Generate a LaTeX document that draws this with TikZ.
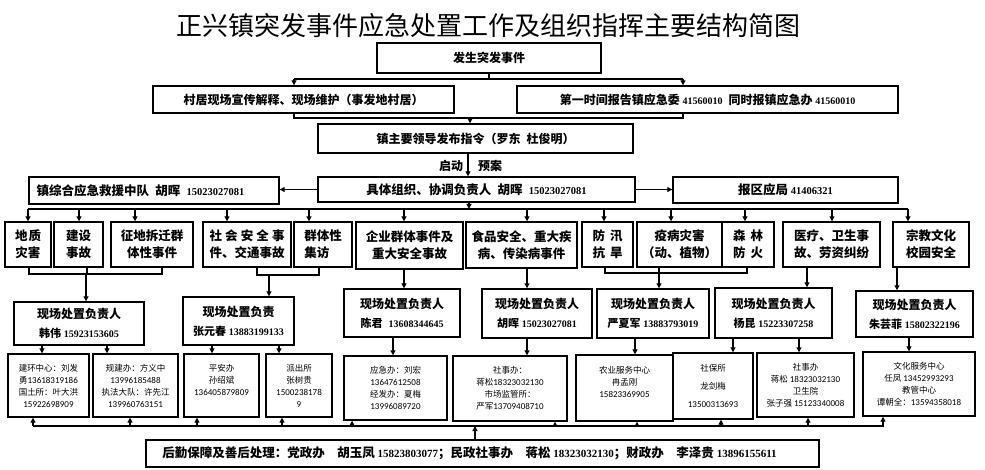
\documentclass[tikz,border=0pt]{standalone}
\usepackage{fontspec}
\setmainfont{Noto Sans CJK SC}
\newfontfamily\numfont{Liberation Serif}
\newfontfamily\smnumfont{Carlito}
\usetikzlibrary{arrows.meta}
\newcommand\nm[2][10.5]{{\numfont\bfseries\fontsize{#1}{#1}\selectfont #2}}
\newcommand\sn[1]{{\smnumfont\fontsize{9}{9}\selectfont #1}}
\newcommand\Bx[7][]{\node[box,minimum width={(#5-#3)*1pt},minimum height={(#6-#4)*1pt},#1] (#2) at ({(#3+#5)/2},{(#4+#6)/2}) {#7};}
\newcommand\spr[2]{\makebox[#1][s]{#2}}
\tikzset{
  box/.style={draw, line width=1.4pt, inner sep=0pt, align=center,
    font=\bfseries\fontsize{12.5}{17}\selectfont},
  rowone/.style={font=\bfseries\fontsize{12}{14}\selectfont},
  rowfour/.style={font=\bfseries\fontsize{12}{19}\selectfont},
  small/.style={font=\fontsize{8.5}{12}\selectfont},
  ln/.style={line width=1.2pt},
  arr/.style={line width=1.2pt, -{Triangle[length=5pt,width=5pt]}},
  lbl/.style={inner sep=0pt, font=\bfseries\fontsize{12}{14}\selectfont},
}
\begin{document}
\begin{tikzpicture}[x=1pt,y=-1pt]
\fill[white] (0,0) rectangle (985,470);
\useasboundingbox (0,0) rectangle (985,470);

\node[inner sep=0pt, font=\fontsize{26}{26}\selectfont] (title) at (488,26) {正兴镇突发事件应急处置工作及组织指挥主要结构简图};

% top part
\Bx[rowone]{e1}{377}{43}{601}{73}{发生突发事件}
\Bx[rowone]{r1a}{153}{86}{454}{113}{村居现场宣传解释、现场维护（事发地村居）}
\Bx[rowone]{r1b}{517}{86}{898}{113}{第一时间报告镇应急委 \nm[10]{41560010}\enspace 同时报镇应急办 \nm[10]{41560010}}
\Bx[rowone]{lead}{318}{124}{633}{153}{镇主要领导发布指令（罗东\enspace 杜俊明）}
\node[lbl] (qd) at (451,166) {启动};
\node[lbl] (ya) at (490,166) {预案};

% second row
\Bx{team}{29}{177}{279}{204}{镇综合应急救援中队\enspace 胡晖\enspace \nm{15023027081}\hspace*{27pt}}
\Bx{main}{318}{177}{635}{202}{具体组织、协调负责人\enspace 胡晖\enspace \nm{15023027081}}
\Bx{bao}{673}{177}{898}{203}{报区应局 \nm{41406321}}

% third row
\Bx{c1}{5}{222}{51}{267}{地\kern1pt 质\\灾害}
\Bx{c2}{54}{222}{103}{267}{建设\\事故}
\Bx{c3}{111}{222}{193}{267}{征地拆迁群\\体性事件}
\Bx{c4}{203}{222}{291}{267}{\spr{75pt}{社\hfil 会\hfil 安\hfil 全\hfil 事}\\件、交通事故}
\Bx[align=left]{c5}{294}{222}{352}{267}{群体性\\集访}
\Bx{c6}{356}{222}{463}{269}{企业群体事件及\\重大安全事故}
\Bx{c7}{466}{222}{577}{268}{食品安全、重大疾\\病、传染病事件}
\Bx{c8}{582}{222}{633}{267}{防\kern5pt 汛\\抗\kern5pt 旱}
\Bx{c9}{637}{222}{722}{267}{疫病灾害\\（动、植物）}
\Bx{c10}{722}{222}{774}{267}{森\kern5pt 林\\防\kern5pt 火}
\Bx{c11}{783}{222}{880}{267}{医疗、卫生事\\故、劳资纠纷}
\Bx{c12}{893}{222}{969}{267}{宗教文化\\校园安全}

% fourth row
\Bx[rowfour]{d1}{14}{302}{144}{345}{现场处置负责人\\{\fontsize{11}{19}\selectfont 韩伟} \nm[10]{15923153605}}
\Bx[rowfour]{d2}{183}{297}{294}{345}{现场处置负责\\{\fontsize{11}{19}\selectfont 张元春} \nm[10]{13883199133}}
\Bx[rowfour]{d3}{344}{289}{460}{337}{现场处置负责人\\{\fontsize{11}{19}\selectfont 陈君}\enspace\nm[10]{13608344645}}
\Bx[rowfour]{d4}{482}{289}{592}{338}{现场处置负责人\\{\fontsize{11}{19}\selectfont 胡晖} \nm[10]{15023027081}}
\Bx[rowfour]{d5}{597}{289}{709}{338}{现场处置负责人\\{\fontsize{11}{19}\selectfont 严夏军} \nm[10]{13883793019}}
\Bx[rowfour]{d6}{715}{288}{832}{338}{现场处置负责人\\{\fontsize{11}{19}\selectfont 杨昆} \nm[10]{15223307258}}
\Bx[rowfour]{d7}{856}{291}{973}{337}{现场处置负责人\\{\fontsize{11}{19}\selectfont 朱芸菲} \nm[10]{15802322196}}

% fifth row
\Bx[small]{f1}{8}{354}{89}{417}{建环中心：刘发\\勇\sn{13618319186}\\国土所：叶大洪\\\sn{15922698909}}
\Bx[small]{f2}{93}{354}{178}{417}{规建办：方义中\\\sn{13996185488}\\执法大队：许先江\\\sn{139960763151}}
\Bx[small]{f3}{184}{354}{259}{417}{平安办\\孙绍斌\\\sn{136405879809}\\\mbox{}}
\Bx[small]{f4}{266}{354}{332}{417}{派出所\\张树贵\\\sn{1500238178}\\\sn{9}}
\Bx[small]{f5}{344}{356}{447}{420}{应急办：刘宏\\\sn{13647612508}\\经发办：夏梅\\\sn{13996089720}}
\Bx[small]{f6}{453}{356}{567}{421}{社事办：\\蒋松\sn{18323032130}\\市场监管所：\\严军\sn{13709408710}}
\Bx[small]{f7}{576}{355}{673}{421}{农业服务中心\\冉孟刚\\\sn{15823369905}\\\mbox{}}
\Bx[small]{f8}{673}{353}{753}{419}{社保所\\[6pt]龙剑梅\\[6pt]\sn{13500313693}}
\Bx[small]{f9}{757}{353}{854}{417}{社事办\\蒋松 \sn{18323032130}\\卫生院\\张子强 \sn{15123340008}}
\Bx[small]{f10}{863}{352}{975}{416}{文化服务中心\\任凤 \sn{13452993293}\\教管中心\\谭朝全：\sn{13594358018}}

% bottom
\Bx{g}{146}{440}{819}{467}{后勤保障及善后处理：党政办\quad 胡玉凤 \nm[11]{15823803077}；民政社事办\quad 蒋松 \nm[11]{18323032130}；财政办\quad 李泽贵 \nm[11]{13896155611}\hspace*{26pt}}

% ---- connectors ----
\coordinate (t1) at (294,79); \coordinate (t2) at (683,79);
\draw[ln] (e1.south) -- (e1.south |- t1);
\draw[ln] (t1) -- (t2);
\draw[arr] (t1) -- (t1 |- r1a.north);
\draw[arr] (t2) -- (t2 |- r1b.north);
\coordinate (u1) at (294,118); \coordinate (u2) at (683,118); \coordinate (u3) at (470,118);
\draw[ln] (u1 |- r1a.south) -- (u1) -- (u2) -- (u2 |- r1b.south);
\draw[arr] (u3) -- (u3 |- lead.north);
\coordinate (v1) at (468,160);
\draw[arr] (v1 |- lead.south) -- (v1 |- main.north);
\draw[arr] (main.west) -- (main.west -| team.east);
\draw[arr] (main.east) -- (main.east -| bao.west);
\coordinate (busL) at (28,209); \coordinate (busR) at (908,209); \coordinate (m1) at (469,209);
\draw[ln] (busL) -- (busR);
\draw[arr] (m1 |- main.south) -- (m1);
\foreach \x/\n in {28/c1,79/c2,135/c3,227/c4,309/c5,404/c6,527/c7,604/c8,671/c9,745/c10,832/c11,908/c12}
  \draw[arr] (\x,209) -- (\x,209 |- \n.north);

% brackets under row 3
\draw[ln] (29,0 |- c1.south) -- (29,274) -- (162,274) -- (162,0 |- c3.south);
\draw[ln] (87,0 |- c2.south) -- (87,274);
\draw[arr] (86,274) -- (86,0 |- d1.north);
\draw[ln] (257,0 |- c4.south) -- (257,275) -- (319,275) -- (319,0 |- c5.south);
\draw[arr] (269,275) -- (269,0 |- d2.north);
\draw[arr] (404,0 |- c6.south) -- (404,0 |- d3.north);
\draw[arr] (527,0 |- c7.south) -- (527,0 |- d4.north);
\draw[ln] (605,0 |- c8.south) -- (605,273) -- (747,273) -- (747,0 |- c10.south);
\draw[arr] (659,0 |- c9.south) -- (659,0 |- d5.north);
\draw[arr] (807,0 |- c11.south) -- (807,0 |- d6.north);
\draw[arr] (897,0 |- c12.south) -- (897,0 |- d7.north);

% row 4 to row 5
\foreach \x/\a/\b in {42/d1/f1,107/d1/f2,212/d2/f3,279/d2/f4,393/d3/f5,527/d4/f6,635/d5/f7,733/d6/f8,799/d6/f9,909/d7/f10}
  \draw[arr] (\x,0 |- \a.south) -- (\x,0 |- \b.north);

% bottom bus
\coordinate (bbL) at (33,426); \coordinate (bbR) at (884,426);
\draw[ln] (bbL) -- (bbR);
\foreach \x/\n in {33/f1,130/f2,197/f3,282/f4,352/f5,555/f6,637/f7,721/f8,808/f9,883/f10}
  \draw[arr] (\x,426) -- (\x,426 |- \n.south);
\draw[arr] (475,0 |- g.north) -- (475,426);
\end{tikzpicture}
\end{document}
